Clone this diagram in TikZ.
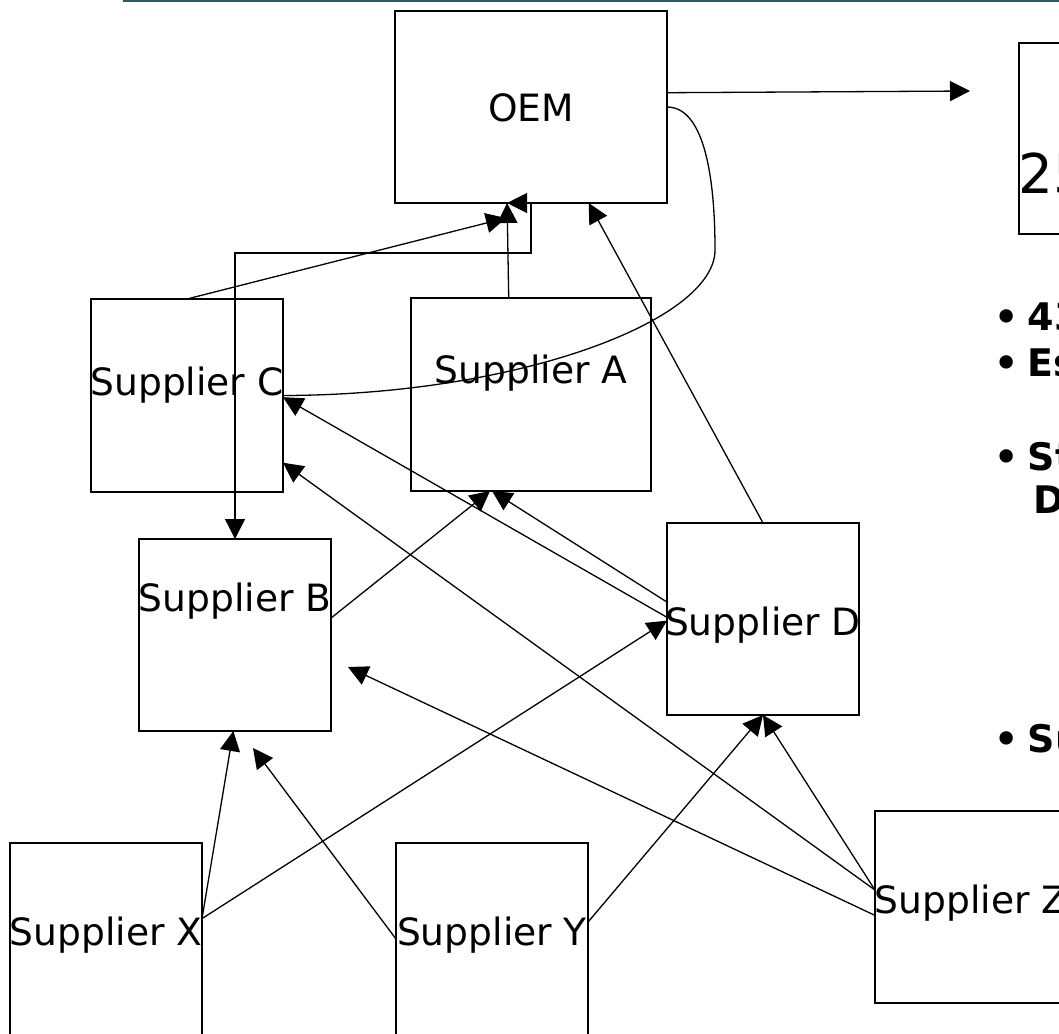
\documentclass[tikz,border=0pt]{standalone}
\usepackage{fontspec}
\setmainfont{DejaVu Sans}
\usetikzlibrary{arrows.meta}
\tikzset{>={Triangle[length=10pt,width=10pt]}}
\definecolor{ruleColor}{RGB}{46,88,100}

\begin{document}
\begin{tikzpicture}[x=0.5pt,y=-0.5pt,line width=0.65pt,
  box/.style={draw,rectangle,inner sep=0pt,outer sep=0pt,minimum width=96pt,minimum height=96pt},
  txt/.style={inner sep=0pt,text height=0pt,text depth=0pt,font=\fontsize{18.8}{22}\selectfont},
  bul/.style={anchor=base west,inner sep=0pt,font=\fontsize{19}{23}\selectfont\bfseries}]
\useasboundingbox (0,0) rectangle (1059,1033);
\draw[ruleColor,line width=1pt] (123,1) -- (1059,1);
% boxes
\node[box,minimum width=136pt,label={[txt,yshift=-7pt]center:OEM}] (OEM) at (531,107) {};
\node[box,minimum width=120pt,minimum height=96.5pt,label={[txt,yshift=5.75pt]center:Supplier A}] (A) at (531,394.5) {};
\node[box,minimum height=96.5pt,label={[txt]center:Supplier C}] (C) at (187,395.5) {};
\node[box,label={[txt,yshift=12pt]center:Supplier B}] (B) at (235,635) {};
\node[box,label={[txt,yshift=-8pt]center:Supplier D}] (D) at (763,619) {};
\node[box,label={[txt,yshift=-3pt]center:Supplier X}] (X) at (106,939) {};
\node[box,label={[txt,yshift=-3pt]center:Supplier Y}] (Y) at (492,939) {};
\node[box,label={[txt,yshift=-3pt]center:Supplier Z}] (Z) at (971,907) {};
\node[box,anchor=north west,minimum width=100pt,minimum height=95.5pt] (R) at (1019,43) {};
\node[anchor=base west,inner sep=0pt,font=\fontsize{27.4}{32}\selectfont] (num) at (1018,193) {25};
% free ends
\coordinate (oemC) at (506,218);
\coordinate (out) at (970,91);
\coordinate (bY) at (253,748);
\coordinate (bZ) at (348,667);
% connectors
\draw[->] (OEM.6.7) -- (out);
\draw (OEM.east) .. controls (705,107) and (715,180) .. (715,250)
  .. controls (715,320) and (520,395) .. (C.east);
\draw[->] (A.103.4) -- (OEM.256.5);
\draw[<->] (OEM.256.5) -- (OEM.south) -- ++(0,50) -| (B.north);
\draw[->] (C.north) -- (oemC);
\draw[->] (D.north) -- (OEM.301.1);
\draw[->] (D.170) -- (A.248);
\draw[->] (D.179) -- (C.359);
\draw[->] (B.10) -- (A.247);
\draw[->] (X.12) -- (B.269);
\draw[->] (X.12) -- (D.181);
\draw[->] (Y.west) -- (bY);
\draw[->] (Y.10) -- (D.south);
\draw[->] (Z.170) -- (D.south);
\draw[->] (Z.170) -- (C.325.7);
\draw[->] (Z.185) -- (bZ);
% bullets
\foreach \y/\s [count=\i] in {330/43,376/Es,470/St,752/Su}{
  \node[bul] (dot\i) at (994,\y) {•};
  \node[bul] (item\i) at (1027,\y) {\s};
}
\node[bul] (item3b) at (1033,513) {D};
\end{tikzpicture}
\end{document}
